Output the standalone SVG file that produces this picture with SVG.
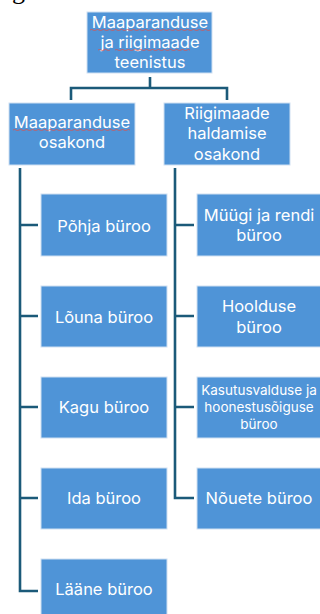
<svg xmlns="http://www.w3.org/2000/svg" width="320" height="614" viewBox="0 0 320 614">
<style>
.box{fill:#4f94d7;stroke:#cfe0f2;stroke-width:1}
.t{font-family:Inter,"Open Sans",sans-serif;font-size:16.5px;fill:#ffffff;text-anchor:middle}
.s{font-size:13.5px}
.con{fill:none;stroke:#1b5a79;stroke-width:2.6}
.sq{fill:none;stroke:#d9534f;stroke-width:0.8}
</style>
<rect width="320" height="614" fill="#ffffff"/>
<text x="12" y="-1.5" font-family="Liberation Serif,serif" font-size="26" fill="#000">g</text>
<g id="connectors">
<path class="con" d="M150 77V88M71 100V88H227V100"/>
<path class="con" d="M20 168V591H38M20 225H38M20 316H38M20 407H38M20 498H38"/>
<path class="con" d="M175 168V498H194M175 225H194M175 316H194M175 407H194"/>
</g>
<g id="top">
<rect class="box" x="87" y="12" width="125" height="61"/>
<text class="t" x="150" y="28">Maaparanduse</text>
<text class="t" x="150" y="48">ja riigimaade</text>
<text class="t" x="150" y="68">teenistus</text>
<path class="sq" d="M90 30q1.5 -1 3 0t3 0t3 0t3 0t3 0t3 0t3 0t3 0t3 0t3 0t3 0t3 0t3 0t3 0t3 0t3 0t3 0t3 0t3 0t3 0t3 0t3 0t3 0t3 0t3 0t3 0t3 0t3 0t3 0t3 0t3 0t3 0t3 0t3 0t3 0t3 0t3 0t3 0t3 0t3 0"/>
<path class="sq" d="M98 50q1.5 -1 3 0t3 0t3 0t3 0"/>
<path class="sq" d="M115 50q1.5 -1 3 0t3 0t3 0t3 0t3 0t3 0t3 0t3 0t3 0t3 0t3 0t3 0t3 0t3 0t3 0t3 0t3 0t3 0t3 0t3 0t3 0t3 0t3 0t3 0t3 0"/>
</g>
<g id="maaparanduse-osakond">
<rect class="box" x="9" y="103" width="126" height="62"/>
<text class="t" x="72" y="128">Maaparanduse</text>
<text class="t" x="72" y="148">osakond</text>
<path class="sq" d="M13 130q1.5 -1 3 0t3 0t3 0t3 0t3 0t3 0t3 0t3 0t3 0t3 0t3 0t3 0t3 0t3 0t3 0t3 0t3 0t3 0t3 0t3 0t3 0t3 0t3 0t3 0t3 0t3 0t3 0t3 0t3 0t3 0t3 0t3 0t3 0t3 0t3 0t3 0t3 0t3 0t3 0"/>
</g>
<g id="riigimaade-osakond">
<rect class="box" x="164" y="103" width="126" height="62"/>
<text class="t" x="227" y="119">Riigimaade</text>
<text class="t" x="227" y="139">haldamise</text>
<text class="t" x="227" y="160">osakond</text>
</g>
<g id="pohja">
<rect class="box" x="41" y="194" width="126" height="62"/>
<text class="t" x="104" y="232">Põhja büroo</text>
</g>
<g id="louna">
<rect class="box" x="41" y="286" width="126" height="61"/>
<text class="t" x="104" y="323">Lõuna büroo</text>
</g>
<g id="kagu">
<rect class="box" x="41" y="377" width="126" height="61"/>
<text class="t" x="104" y="413">Kagu büroo</text>
</g>
<g id="ida">
<rect class="box" x="41" y="468" width="126" height="61"/>
<text class="t" x="104" y="504">Ida büroo</text>
</g>
<g id="laane">
<rect class="box" x="41" y="559" width="126" height="58"/>
<text class="t" x="104" y="595">Lääne büroo</text>
</g>
<g id="myygi">
<rect class="box" x="197" y="194" width="126" height="62"/>
<text class="t" x="259" y="221">Müügi ja rendi</text>
<text class="t" x="259" y="241">büroo</text>
</g>
<g id="hoolduse">
<rect class="box" x="197" y="286" width="126" height="61"/>
<text class="t" x="259" y="312">Hoolduse</text>
<text class="t" x="259" y="333">büroo</text>
</g>
<g id="kasutusvalduse">
<rect class="box" x="197" y="377" width="126" height="61"/>
<text class="t s" x="259" y="395">Kasutusvalduse ja</text>
<text class="t s" x="259" y="412">hoonestusõiguse</text>
<text class="t s" x="259" y="429">büroo</text>
</g>
<g id="nouete">
<rect class="box" x="197" y="468" width="126" height="61"/>
<text class="t" x="259" y="504">Nõuete büroo</text>
</g>
</svg>
